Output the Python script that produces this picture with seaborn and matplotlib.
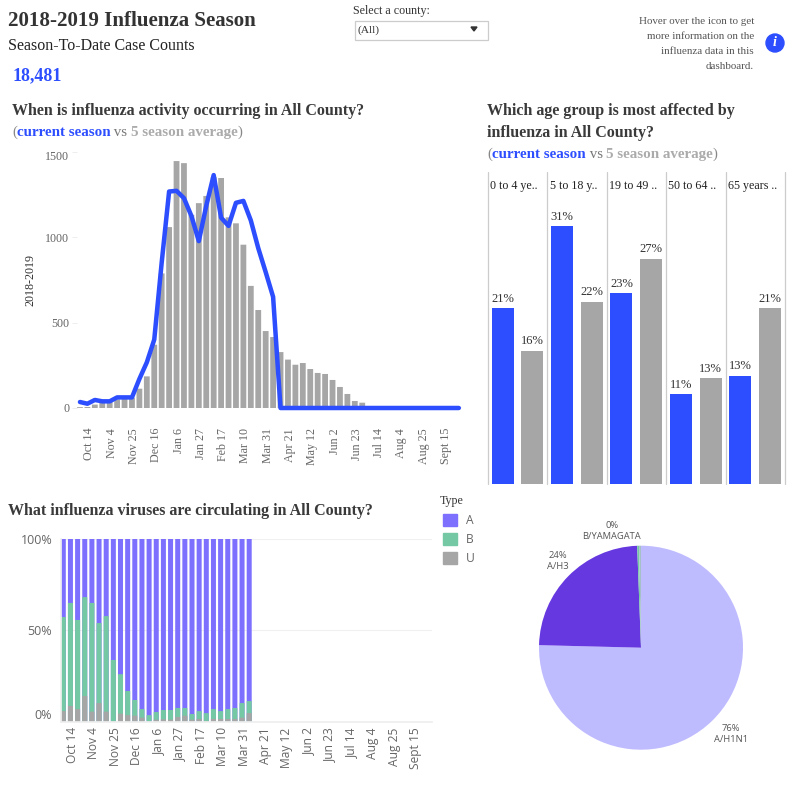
#!/usr/bin/env python3
"""2018-2019 influenza season dashboard, rebuilt with seaborn bar and line plots."""

import numpy as np
import pandas as pd
import matplotlib
matplotlib.use("Agg")
import matplotlib.pyplot as plt
from matplotlib.patches import Circle, Patch, Polygon, Rectangle
from matplotlib.transforms import ScaledTranslation
import seaborn as sns

# ── Data ──────────────────────────────────────────────────────
weeks = ["Oct 7", "Oct 14", "Oct 21", "Oct 28", "Nov 4", "Nov 11", "Nov 18", "Nov 25",
         "Dec 2", "Dec 9", "Dec 16", "Dec 23", "Dec 30", "Jan 6", "Jan 13", "Jan 20",
         "Jan 27", "Feb 3", "Feb 10", "Feb 17", "Feb 24", "Mar 3", "Mar 10", "Mar 17",
         "Mar 24", "Mar 31", "Apr 7", "Apr 14", "Apr 21", "Apr 28", "May 5", "May 12",
         "May 19", "May 26", "Jun 2", "Jun 9", "Jun 16", "Jun 23", "Jun 30", "Jul 7",
         "Jul 14", "Jul 21", "Jul 28", "Aug 4", "Aug 11", "Aug 18", "Aug 25", "Sep 1",
         "Sep 8", "Sept 15", "Sep 22", "Sep 29"]

five_season_avg = [5, 6, 20, 30, 35, 50, 55, 60, 113, 185, 370, 787, 1058, 1444, 1432,
                   1130, 1198, 1240, 1350, 1345, 1115, 1080, 955, 714, 573, 450, 415,
                   327, 283, 253, 263, 228, 205, 199, 164, 123, 82, 41, 31, 8, 5, 3,
                   2, 1, 1, 1, 1, 1, 1, 1, 1, 1]
current_season = [35, 25, 47, 39, 39, 62, 62, 62, 170, 267, 400, 850, 1266, 1270, 1227,
                  1123, 976, 1182, 1362, 1113, 1065, 1200, 1211, 1097, 935, 795, 650,
                  0, 0, 0, 0, 0, 0, 0, 0, 0, 0, 0, 0, 0, 0, 0, 0, 0, 0, 0, 0, 0, 0, 0, 0, 0]

age_groups = ["0 to 4 ye..", "5 to 18 y..", "19 to 49 ..", "50 to 64 ..", "65 years .."]
age_current = [21.1, 31.0, 22.9, 10.8, 13.0]
age_average = [16.0, 21.9, 27.1, 12.7, 21.1]

type_u = [5.8, 8.6, 6.9, 14.0, 5.5, 10.2, 5.5, 0.0, 4.4, 3.6, 3.3, 2.2, 0.0, 1.1, 1.3,
          1.1, 2.6, 3.3, 1.1, 1.5, 0.4, 1.5, 1.5, 1.5, 1.5, 2.2, 4.7]
type_b = [51.5, 56.4, 48.8, 54.2, 59.5, 43.8, 52.3, 33.8, 21.6, 13.2, 8.6, 4.7, 3.6, 4.2,
          5.1, 5.3, 4.9, 4.2, 3.1, 4.3, 4.3, 5.4, 4.3, 5.4, 6.0, 8.0, 6.6]
type_a = [100 - u - b for u, b in zip(type_u, type_b)]

subtype_labels = ["76%\nA/H1N1", "24%\nA/H3", "0%\nB/YAMAGATA", ""]
subtype_share = [75.4, 24.0, 0.3, 0.3]

y_ticks_cases = [0, 500, 1000, 1500]
y_ticks_pct = [0, 50, 100]

# Colours
BLUE = "#2D4EFF"
GREY = "#A6A6A6"
TYPE_A = "#7D70FF"
TYPE_B = "#75C8A4"
TYPE_U = "#A6A6A6"
PIE_COLORS = ["#BFBBFF", "#6638E0", "#75C8A4", "#A6C0C8"]
TITLE_DARK = "#3A3A3A"
TICK_GREY = "#666666"
SERIF = "Liberation Serif"
SANS = "Open Sans"

W, H = 794, 792
PT = 0.72  # points per pixel at dpi 100

sns.set_theme(style="white")
plt.rcParams["font.family"] = SERIF

fig = plt.figure(figsize=(W / 100, H / 100), dpi=100, facecolor="white")


def px_axes(left, top, right, bottom):
    return fig.add_axes([left / W, 1 - bottom / H, (right - left) / W, (bottom - top) / H])


def nudge_xticklabels(ax, px):
    # rotated labels sit a little left of the ticks otherwise
    for label in ax.get_xticklabels():
        label.set_transform(label.get_transform() + ScaledTranslation(px / 100, 0, fig.dpi_scale_trans))


def unsnap_bars(ax):
    # pixel snapping merges neighbouring narrow bars
    for patch in ax.patches:
        patch.set_snap(False)


# Overlay in pixel coordinates for headings and widgets
page = fig.add_axes([0, 0, 1, 1], zorder=0)
page.set_xlim(0, W)
page.set_ylim(H, 0)
page.axis("off")


def text_runs(x, y, runs, size):
    """Write pieces of differing colour and weight one after another on a line."""
    renderer = fig.canvas.get_renderer()
    for txt, color, weight in runs:
        t = page.text(x, y, txt, color=color, fontweight=weight, fontsize=size * PT,
                      va="baseline", ha="left")
        x += t.get_window_extent(renderer).width


def season_note(x, y):
    text_runs(x, y, [("(", "#888888", "normal"), ("current season", BLUE, "bold"),
                     (" vs ", "#777777", "normal"), ("5 season average", "#ABABAB", "bold"),
                     (")", "#888888", "normal")], 15)


# ── Header ────────────────────────────────────────────────────
page.text(8, 20.5, "2018-2019 Influenza Season", fontsize=21 * PT, fontweight="bold",
          color="#333333", va="center")
page.text(8, 46.5, "Season-To-Date Case Counts", fontsize=16 * PT, color="#222222", va="center")
page.text(12.5, 76, "18,481", fontsize=18 * PT, fontweight="bold", color=BLUE, va="center")

page.text(353, 11, "Select a county:", fontsize=12 * PT, color="#333333", va="center")
page.add_patch(Rectangle((354.5, 20.5), 133, 19, facecolor="white", edgecolor="#CCCCCC", lw=0.9))
page.text(358, 30.5, "(All)", fontsize=11.5 * PT, color="#333333", va="center")
page.add_patch(Polygon([(471, 27), (477, 27), (474, 31)], closed=True, color="#333333"))

for line_y, line in zip([21.5, 36.5, 51.5, 66.5],
                        ["Hover over the icon to get", "more information on the",
                         "influenza data in this", "dashboard."]):
    page.text(754, line_y, line, fontsize=11 * PT, color="#555555", ha="right", va="center")
page.add_patch(Circle((775, 43), 9, color=BLUE))
page.text(775, 43, "i", fontsize=14 * PT, color="white", fontweight="bold", style="italic",
          ha="center", va="center")

page.text(12, 111, "When is influenza activity occurring in All County?", fontsize=16 * PT,
          fontweight="bold", color=TITLE_DARK, va="center")
season_note(12, 136)
page.text(487, 111, "Which age group is most affected by", fontsize=16 * PT,
          fontweight="bold", color=TITLE_DARK, va="center")
page.text(487, 133, "influenza in All County?", fontsize=16 * PT,
          fontweight="bold", color=TITLE_DARK, va="center")
season_note(487, 158)
page.text(8, 511, "What influenza viruses are circulating in All County?", fontsize=16 * PT,
          fontweight="bold", color=TITLE_DARK, va="center")

# ── Weekly case counts ────────────────────────────────────────
ax = px_axes(77, 151.5, 464, 408)
sns.barplot(x=weeks, y=five_season_avg, order=weeks, color=GREY, saturation=1,
            width=0.78, linewidth=0, ax=ax, zorder=2)
unsnap_bars(ax)
sns.lineplot(x=np.arange(len(weeks)), y=current_season, color=BLUE, linewidth=4.5 * PT,
             errorbar=None, ax=ax, zorder=3, clip_on=False, solid_capstyle="round")
ax.set_xlim(-0.4, 51.7)
ax.set_ylim(0, 1500)
sns.despine(ax=ax, left=True, bottom=True)
ax.set_yticks(y_ticks_cases)
ax.set_yticklabels([str(v) for v in y_ticks_cases], fontsize=12 * PT, color=TICK_GREY)
ax.get_yticklabels()[-1].set_va("top")
ax.set_ylabel("2018-2019", fontsize=12 * PT, color="#333333", labelpad=6)
ax.tick_params(axis="y", length=3.6, width=0.7, color="#EEEEEE", pad=2, left=True)
ax.set_xticks(range(1, len(weeks), 3))
ax.set_xticklabels(weeks[1::3], rotation=90, fontsize=12 * PT, color=TICK_GREY)
ax.tick_params(axis="x", length=0, pad=20 * PT)
nudge_xticklabels(ax, 2)
ax.set_xlabel("")
ax.patch.set_alpha(0)

# ── Age groups ────────────────────────────────────────────────
age_df = pd.DataFrame({
    "age": age_groups * 2,
    "pct": age_current + age_average,
    "series": ["current"] * len(age_groups) + ["average"] * len(age_groups),
})
ax = px_axes(487.7, 172, 785, 484)
sns.barplot(data=age_df, x="age", y="pct", hue="series", order=age_groups,
            palette=[BLUE, GREY], saturation=1, width=1, gap=0.26, linewidth=0,
            legend=False, ax=ax)
for container in ax.containers:
    ax.bar_label(container, fmt=lambda v: f"{v:.0f}%", padding=2.5, fontsize=12.5 * PT,
                 color="#333333")
ax.set_xlim(-0.5, 4.5)
ax.set_ylim(0, 37.5)
for i, name in enumerate(age_groups):
    ax.axvline(i - 0.5, color="#CCCCCC", lw=0.9, clip_on=False)
    ax.text(i - 0.46, 35.8, name, fontsize=12 * PT, color="#222222", va="center", ha="left")
ax.axvline(4.5, color="#CCCCCC", lw=0.9, clip_on=False)
sns.despine(ax=ax, left=True, bottom=True)
ax.set_xticks([])
ax.set_yticks([])
ax.set_xlabel("")
ax.set_ylabel("")
ax.patch.set_alpha(0)

# ── Virus types, stacked to 100% ──────────────────────────────
type_weeks = weeks[:len(type_a)]
cum_b = [u + b for u, b in zip(type_u, type_b)]
cum_a = [c + a for c, a in zip(cum_b, type_a)]
ax = px_axes(60.5, 539, 432, 721.7)
ax.set_axisbelow(True)
for series, color in [(cum_a, TYPE_A), (cum_b, TYPE_B), (type_u, TYPE_U)]:
    sns.barplot(x=type_weeks, y=series, order=weeks, color=color, saturation=1,
                width=0.7, linewidth=0, ax=ax, zorder=2)
unsnap_bars(ax)
ax.set_xlim((60.5 - 63.3) / 7.15, (432 - 63.3) / 7.15)
ax.set_ylim(0, 100)
sns.despine(ax=ax, left=False, bottom=False, top=True, right=True)
ax.spines["left"].set_color("#F0F0F0")
ax.spines["bottom"].set_color("#EEEEEE")
ax.grid(axis="y", color="#F0F0F0", lw=0.8)
ax.set_yticks(y_ticks_pct)
ax.set_yticklabels([f"{v}%" for v in y_ticks_pct], fontsize=12.5 * PT, color=TICK_GREY,
                   family=SANS)
ax.get_yticklabels()[0].set_va("bottom")
ax.tick_params(axis="y", length=0, pad=6)
ax.set_xticks(range(1, len(weeks), 3))
ax.set_xticklabels(weeks[1::3], rotation=90, fontsize=12 * PT, color=TICK_GREY, family=SANS)
ax.tick_params(axis="x", length=0, pad=4)
nudge_xticklabels(ax, 2)
ax.set_xlabel("")
ax.patch.set_alpha(0)

page.text(440, 501, "Type", fontsize=12 * PT, color="#333333", va="center")
page.legend(handles=[Patch(color=TYPE_A, label="A"), Patch(color=TYPE_B, label="B"),
                     Patch(color=TYPE_U, label="U")],
            loc="upper left", bbox_to_anchor=(432.2, 503.2),
            bbox_transform=page.transData, frameon=False,
            handlelength=1.16, handleheight=1.16,
            labelspacing=0.5, handletextpad=0.75, borderpad=0.4,
            prop={"family": SANS, "size": 12 * PT}, labelcolor=TICK_GREY)

# ── Subtype pie ───────────────────────────────────────────────
ax = px_axes(539, 545.7, 743, 749.7)
ax.pie(subtype_share, colors=PIE_COLORS, startangle=90, counterclock=False, radius=1,
       wedgeprops={"linewidth": 0})
ax.set_xlim(-1, 1)
ax.set_ylim(-1, 1)
for (lx, ly), label in zip([(731, 734), (557.7, 561), (611.7, 530.7)], subtype_labels):
    page.text(lx, ly, label, fontsize=9.4 * PT, color="#555555", ha="center", va="center",
              family=SANS, linespacing=1.3)

fig.savefig("out.png", dpi=100, facecolor="white")
plt.close(fig)
